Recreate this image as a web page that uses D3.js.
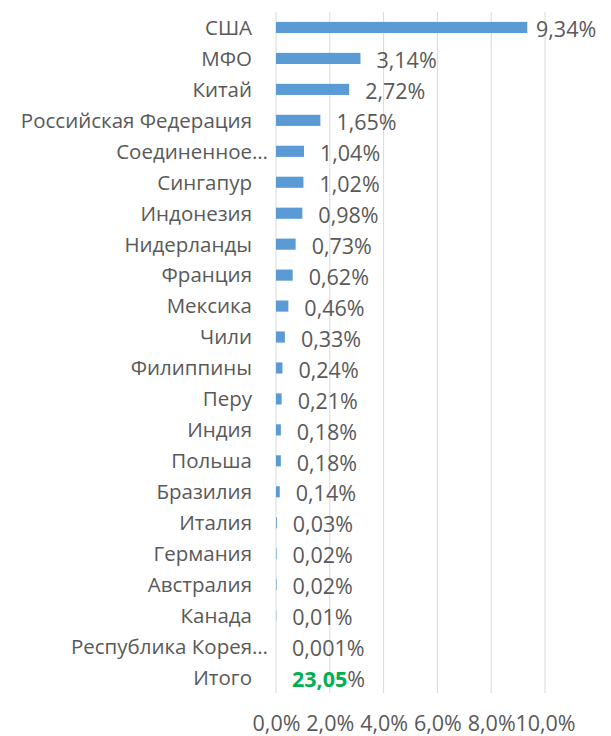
<!DOCTYPE html>
<html>
<head>
<meta charset="utf-8">
<script src="https://cdn.jsdelivr.net/npm/d3@7"></script>
<style>
  body { margin: 0; background: #fff; }
  svg text { font-family: "Open Sans", sans-serif; fill: #595959; }
</style>
</head>
<body>
<div id="chart"></div>
<script>
// countries / rows, top to bottom
const categories = ['США', 'МФО', 'Китай', 'Российская Федерация', 'Соединенное…', 'Сингапур',
  'Индонезия', 'Нидерланды', 'Франция', 'Мексика', 'Чили', 'Филиппины', 'Перу', 'Индия',
  'Польша', 'Бразилия', 'Италия', 'Германия', 'Австралия', 'Канада', 'Республика Корея…', 'Итого'];
// share, %
const values = [9.34, 3.14, 2.72, 1.65, 1.04, 1.02, 0.98, 0.73, 0.62, 0.46, 0.33, 0.24, 0.21,
  0.18, 0.18, 0.14, 0.03, 0.02, 0.02, 0.01, 0.001, 23.05];
const valueLabels = ['9,34', '3,14', '2,72', '1,65', '1,04', '1,02', '0,98', '0,73', '0,62', '0,46',
  '0,33', '0,24', '0,21', '0,18', '0,18', '0,14', '0,03', '0,02', '0,02', '0,01', '0,001', '23,05'];
const totalName = 'Итого';
const ticks = [0, 2, 4, 6, 8, 10];

const width = 611, height = 736;
const margin = {top: 12, right: 66, bottom: 43, left: 276};

const data = categories.map((c, i) => ({name: c, value: values[i], label: valueLabels[i]}));

const svg = d3.select('#chart').append('svg')
  .attr('width', width).attr('height', height);

const x = d3.scaleLinear([0, 10], [margin.left, width - margin.right]);
const y = d3.scaleBand(categories, [margin.top, height - margin.bottom]).paddingInner(0.64).paddingOuter(0.32);

// gridlines
svg.append('g').selectAll('line').data(ticks).join('line')
  .attr('x1', d => x(d)).attr('x2', d => x(d))
  .attr('y1', margin.top).attr('y2', height - margin.bottom)
  .attr('stroke', '#d9d9d9').attr('stroke-width', 1);

// x axis labels
const axisX = d3.axisBottom(x).tickValues(ticks).tickSize(0).tickPadding(0)
  .tickFormat(d => d3.format('.1f')(d).replace('.', ',') + '%');
svg.append('g')
  .attr('transform', `translate(0,${height - 11})`)
  .call(axisX)
  .call(g => g.select('.domain').remove())
  .call(g => g.selectAll('text').attr('font-size', 21.5).attr('dy', 0)
    .attr('dominant-baseline', 'middle').style('font-family', '"Open Sans", sans-serif').attr('fill', '#595959'));

// bars (total row has no bar)
svg.append('g').selectAll('rect').data(data.filter(d => d.name !== totalName)).join('rect')
  .attr('x', x(0))
  .attr('y', d => y(d.name))
  .attr('width', d => x(d.value) - x(0))
  .attr('height', y.bandwidth())
  .attr('fill', '#5b9bd5');

// category labels (truncated names run a bit past the others)
svg.append('g').selectAll('text').data(data).join('text')
  .attr('x', d => d.name.endsWith('…') ? 268 : 252)
  .attr('y', d => y(d.name) + y.bandwidth() / 2)
  .attr('dy', '0.36em')
  .attr('text-anchor', 'end')
  .attr('font-size', 20.5)
  .text(d => d.name);

// value labels
const valText = svg.append('g').selectAll('text').data(data).join('text')
  .attr('x', d => d.name === totalName ? x(0) + 16 : Math.min(x(d.value) + 16, width - 75))
  .attr('y', d => y(d.name) + y.bandwidth() / 2)
  .attr('dy', '0.45em')
  .attr('font-size', 21.5);
valText.append('tspan')
  .attr('fill', d => d.name === totalName ? '#00b050' : '#595959')
  .attr('font-weight', d => d.name === totalName ? 'bold' : 'normal')
  .text(d => d.label);
valText.append('tspan').text('%');
</script>
</body>
</html>
